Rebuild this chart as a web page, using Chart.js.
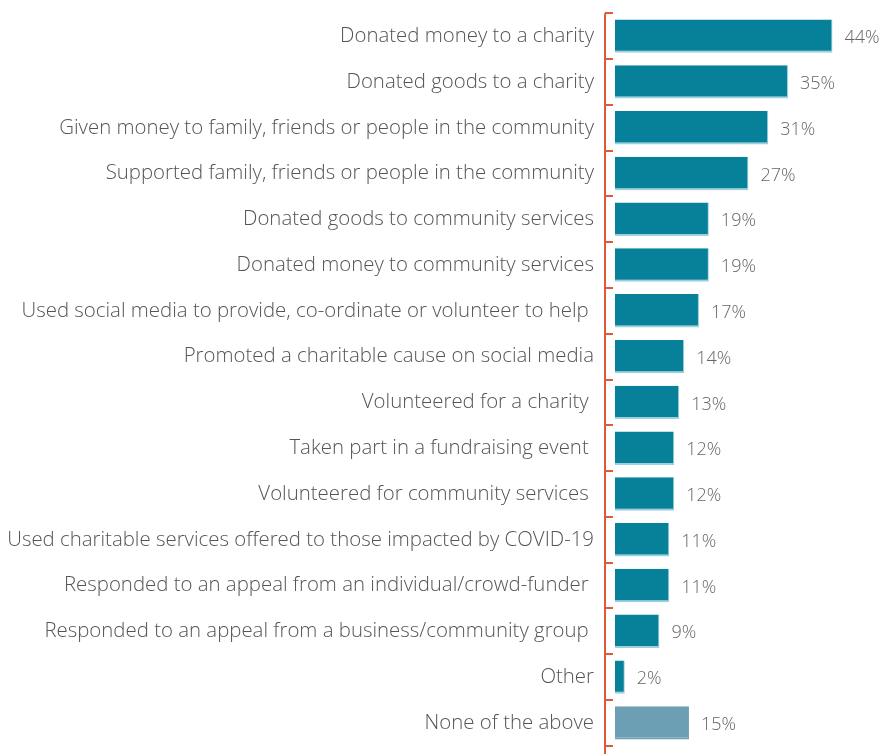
<!DOCTYPE html>
<html>
<head>
<meta charset="utf-8">
<script src="https://cdn.jsdelivr.net/npm/chart.js@4"></script>
<style>
  html, body { margin: 0; padding: 0; background: #ffffff; overflow: hidden; }
  #wrap { width: 882px; height: 779px; margin-top: -10px; position: relative; }
</style>
</head>
<body>
<div id="wrap"><canvas id="helpChart"></canvas></div>
<script>
const categories = [
  'Donated money to a charity',
  'Donated goods to a charity',
  'Given money to family, friends or people in the community',
  'Supported family, friends or people in the community',
  'Donated goods to community services',
  'Donated money to community services',
  'Used social media to provide, co-ordinate or volunteer to help ',
  'Promoted a charitable cause on social media',
  'Volunteered for a charity ',
  'Taken part in a fundraising event ',
  'Volunteered for community services ',
  'Used charitable services offered to those impacted by COVID-19',
  'Responded to an appeal from an individual/crowd-funder ',
  'Responded to an appeal from a business/community group ',
  'Other',
  'None of the above'
];
const percentages = [44, 35, 31, 27, 19, 19, 17, 14, 13, 12, 12, 11, 11, 9, 2, 15];

const barColor = '#07819a';
const noneColor = '#6d9fb4';
const edgeColor = '#9cd0dc';
const axisColor = '#e05a3a';
const fontFamily = '"Open Sans", "Noto Sans", sans-serif';

// red axis line on the left with short ticks pointing into the plot
const axisPlugin = {
  id: 'leftAxis',
  afterDraw(chart) {
    const { ctx, chartArea } = chart;
    const y = chart.scales.y;
    const x0 = chartArea.left;
    ctx.save();
    ctx.strokeStyle = axisColor;
    ctx.lineWidth = 2;
    ctx.beginPath();
    ctx.moveTo(x0, y.getPixelForValue(-0.5));
    ctx.lineTo(x0, chart.height);
    ctx.stroke();
    ctx.beginPath();
    for (let i = 0; i <= categories.length; i++) {
      const py = Math.round(y.getPixelForValue(i - 0.5));
      ctx.moveTo(x0, py);
      ctx.lineTo(x0 + 8, py);
    }
    ctx.stroke();
    ctx.restore();
  }
};

// percentage labels to the right of each bar
const valueLabels = {
  id: 'valueLabels',
  afterDatasetsDraw(chart) {
    const { ctx } = chart;
    const meta = chart.getDatasetMeta(0);
    ctx.save();
    ctx.font = '300 18px ' + fontFamily;
    ctx.fillStyle = '#666666';
    ctx.textAlign = 'left';
    ctx.textBaseline = 'middle';
    meta.data.forEach((bar, i) => {
      ctx.fillText(percentages[i] + '%', bar.x + 12, bar.y + 2);
    });
    ctx.restore();
  }
};

new Chart(document.getElementById('helpChart'), {
  type: 'bar',
  data: {
    labels: categories,
    datasets: [{
      data: percentages,
      backgroundColor: percentages.map((v, i) => i === percentages.length - 1 ? noneColor : barColor),
      borderColor: percentages.map((v, i) => i === percentages.length - 1 ? noneColor : edgeColor),
      borderWidth: { top: 0, left: 0, right: 1, bottom: 2 },
      borderSkipped: false,
      categoryPercentage: 1,
      barPercentage: 0.73
    }]
  },
  options: {
    indexAxis: 'y',
    responsive: true,
    maintainAspectRatio: false,
    animation: false,
    layout: { padding: { top: 3, right: 5, bottom: 0, left: 0 } },
    plugins: {
      legend: { display: false },
      tooltip: { enabled: false }
    },
    scales: {
      x: {
        display: false,
        min: -2,
        max: 53
      },
      y: {
        afterFit(scale) { scale.width = 605; },
        border: { display: false },
        grid: { display: false, drawTicks: false },
        ticks: {
          padding: 11,
          color: '#555555',
          font: { family: fontFamily, size: 20.4, weight: '300' }
        }
      }
    }
  },
  plugins: [axisPlugin, valueLabels]
});
</script>
</body>
</html>
